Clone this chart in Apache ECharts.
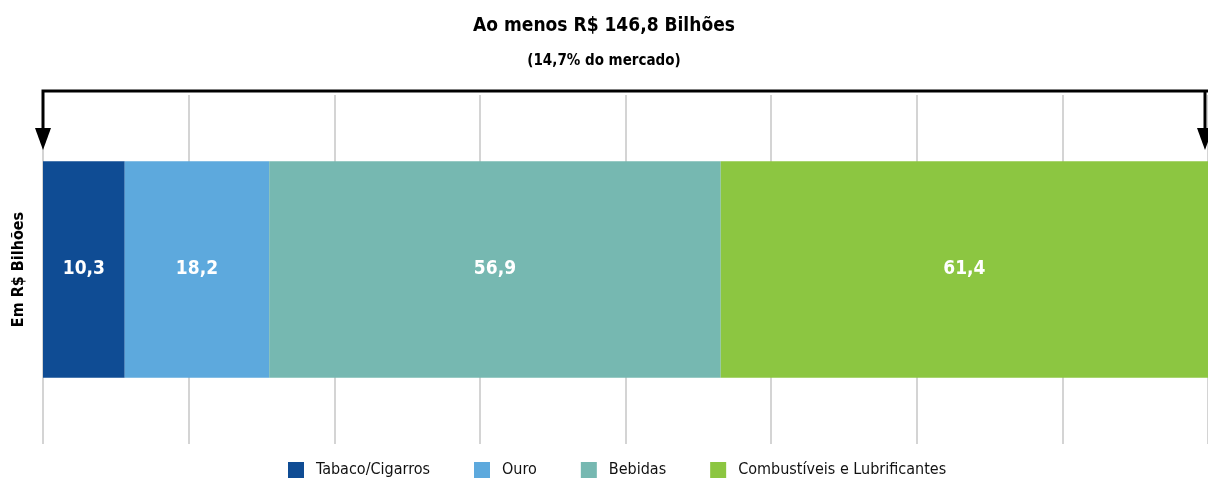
<!DOCTYPE html>
<html>
<head>
<meta charset="utf-8">
<script src="https://cdn.jsdelivr.net/npm/echarts@6/dist/echarts.min.js"></script>
<style>
  html, body { margin: 0; padding: 0; background: #fff; }
  #chart { width: 1208px; height: 481px; }
</style>
</head>
<body>
<div id="chart"></div>
<script>
// dados
var categorias = ['Total'];
var nomes = ['Tabaco/Cigarros', 'Ouro', 'Bebidas', 'Combustíveis e Lubrificantes'];
var valores = [10.3, 18.2, 56.9, 61.4];
var cores = ['#0f4c94', '#5da9dd', '#76b8b1', '#8cc641'];
var titulo = 'Ao menos R$ 146,8 Bilhões';
var subtitulo = '(14,7% do mercado)';

var fonte = '"Liberation Sans Narrow", "DejaVu Sans Condensed", sans-serif';
var total = valores.reduce(function (a, b) { return a + b; }, 0);
total = Math.round(total * 10) / 10;

var series = nomes.map(function (n, i) {
    return {
        name: n,
        type: 'bar',
        stack: 'total',
        barWidth: '62%',
        itemStyle: { color: cores[i] },
        label: {
            show: true,
            position: 'inside',
            color: '#fff',
            fontFamily: fonte,
            fontWeight: 'bold',
            fontSize: 19,
            formatter: function (p) { return String(p.value).replace('.', ','); }
        },
        data: [valores[i]]
    };
});

var option = {
    animation: false,
    title: {
        text: titulo,
        subtext: subtitulo,
        left: 'center',
        top: 12,
        itemGap: 18,
        textStyle: { fontFamily: fonte, fontWeight: 'bold', fontSize: 19, color: '#000' },
        subtextStyle: { fontFamily: fonte, fontWeight: 'bold', fontSize: 15, color: '#000' }
    },
    legend: {
        bottom: -2,
        left: 283,
        itemWidth: 16,
        itemHeight: 16,
        itemGap: 44,
        icon: 'rect',
        textStyle: { fontFamily: fonte, fontSize: 16, color: '#111', padding: [0, 0, 0, 7] },
        data: nomes
    },
    grid: { left: 43, right: 0, top: 95, bottom: 37, outerBoundsMode: 'none' },
    xAxis: {
        type: 'value',
        min: 0,
        max: total,
        interval: total / 8,
        axisLabel: { show: false },
        axisTick: { show: false },
        axisLine: { show: false },
        splitLine: { show: true, lineStyle: { color: '#d4d4d4', width: 2 } }
    },
    yAxis: {
        type: 'category',
        data: categorias,
        name: 'Em R$ Bilhões',
        nameLocation: 'middle',
        nameRotate: 90,
        nameGap: 16,
        nameTextStyle: { fontFamily: fonte, fontWeight: 'bold', fontSize: 16, color: '#000' },
        axisLabel: { show: false },
        axisTick: { show: false },
        axisLine: { show: false }
    },
    series: series
};

var chart = echarts.init(document.getElementById('chart'));
chart.setOption(option);

// colchete com setas, posicionado pelas escalas
var x0 = chart.convertToPixel({ xAxisIndex: 0 }, 0);
var x1 = chart.convertToPixel({ xAxisIndex: 0 }, total) - 3;
var yTopo = 91, yPonta = 150;
chart.setOption({
    graphic: [
        {
            type: 'polyline',
            shape: { points: [[x0, 130], [x0, yTopo], [x1 + 10, yTopo]] },
            style: { stroke: '#000', lineWidth: 3, fill: null }
        },
        {
            type: 'polyline',
            shape: { points: [[x1, yTopo], [x1, 130]] },
            style: { stroke: '#000', lineWidth: 3, fill: null }
        },
        {
            type: 'polygon',
            shape: { points: [[x0 - 8, 128], [x0 + 8, 128], [x0, yPonta]] },
            style: { fill: '#000' }
        },
        {
            type: 'polygon',
            shape: { points: [[x1 - 8, 128], [x1 + 8, 128], [x1, yPonta]] },
            style: { fill: '#000' }
        }
    ]
});
</script>
</body>
</html>
